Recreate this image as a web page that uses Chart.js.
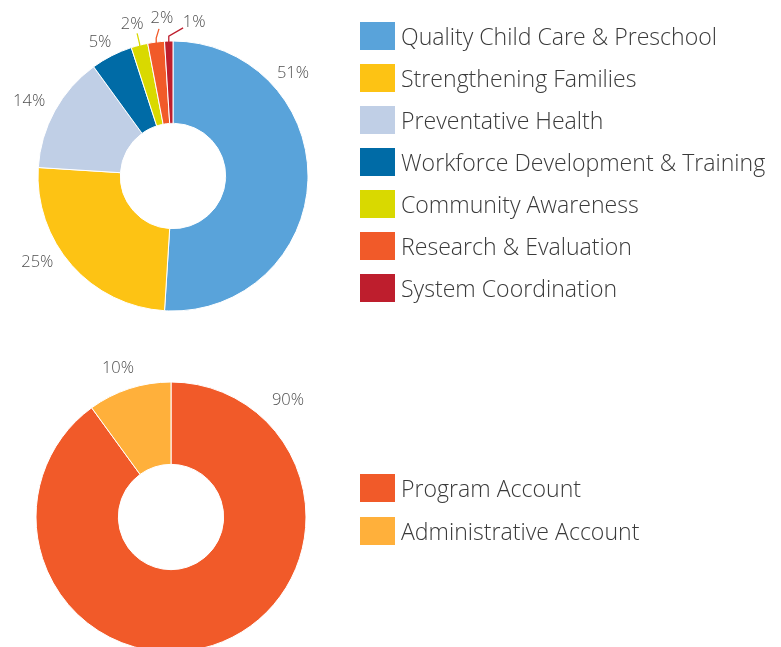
<!DOCTYPE html>
<html><head><meta charset="utf-8">
<script src="https://cdn.jsdelivr.net/npm/chart.js@4"></script>
<style>
html,body{margin:0;padding:0;background:#fff;overflow:hidden;width:781px;height:647px}
canvas{position:absolute;left:0}
#c1{top:0}#c2{top:330px}
</style></head><body>
<canvas id="c1" width="781" height="330"></canvas>
<canvas id="c2" width="781" height="330"></canvas>
<script>
// ---- data ----
const focusCategories = ['Quality Child Care & Preschool','Strengthening Families','Preventative Health','Workforce Development & Training','Community Awareness','Research & Evaluation','System Coordination'];
const focusValues = [51,25,14,5,2,2,1];
const focusColors = ['#59A3DA','#FDC314','#C0CFE6','#006BA6','#D9D900','#F15A29','#BE1E2D'];

const accountCategories = ['Program Account','Administrative Account'];
const accountValues = [90,10];
const accountColors = ['#F15A29','#FFB03B'];

const FONT = "'Open Sans', 'Noto Sans', sans-serif";

// percentage labels, placed around the ring
const pctLabels = {
  id:'pctLabels',
  afterDatasetsDraw(chart, args, opts){
    const ctx = chart.ctx, meta = chart.getDatasetMeta(0), ds = chart.data.datasets[0];
    ctx.save();
    ctx.font = opts.font; ctx.textAlign='center'; ctx.textBaseline='middle';
    meta.data.forEach((arc,i)=>{
      const p = arc.getProps(['x','y','startAngle','endAngle','outerRadius'], true);
      const mid = (p.startAngle+p.endAngle)/2;
      const pl = (opts.place||[])[i] || {};
      const ang = pl.angle!=null ? (pl.angle-90)*Math.PI/180 : mid;
      const dist = p.outerRadius + (pl.dist!=null ? pl.dist : 24);
      const lx = p.x + Math.cos(ang)*dist, ly = p.y + Math.sin(ang)*dist;
      if (pl.leader){
        const x0 = p.x + Math.cos(mid)*(p.outerRadius-1), y0 = p.y + Math.sin(mid)*(p.outerRadius-1);
        ctx.beginPath();
        ctx.strokeStyle = ds.backgroundColor[i]; ctx.lineWidth = 1.3;
        ctx.moveTo(x0,y0); ctx.lineTo(x0, y0-pl.leader[2]);
        ctx.lineTo(lx+pl.leader[0], ly+pl.leader[1]);
        ctx.stroke();
      }
      ctx.fillStyle = opts.color;
      ctx.fillText(ds.data[i]+'%', lx, ly);
    });
    ctx.restore();
  }
};

// legend at right
const sideLegend = {
  id:'sideLegend',
  afterDraw(chart, args, opts){
    const ctx = chart.ctx, ds = chart.data.datasets[0];
    ctx.save();
    ctx.font = opts.font; ctx.textAlign='left'; ctx.textBaseline='middle';
    chart.data.labels.forEach((lab,i)=>{
      const y = opts.top + i*opts.step;
      ctx.fillStyle = ds.backgroundColor[i];
      ctx.fillRect(opts.left, y, 35, 28);
      ctx.fillStyle = opts.color;
      ctx.fillText(lab, opts.left+41, y+16.5);
    });
    ctx.restore();
  }
};

function makeChart(id, labels, values, colors, padding, place, legendTop, legendStep){
  return new Chart(document.getElementById(id), {
    type:'doughnut',
    data:{labels, datasets:[{data:values, backgroundColor:colors, borderColor:'#fff', borderWidth:1, hoverOffset:0, radius:135}]},
    options:{
      responsive:false, animation:false, devicePixelRatio:1,
      cutout:'39%', rotation:0, circumference:360,
      layout:{padding},
      plugins:{
        legend:{display:false}, tooltip:{enabled:false},
        pctLabels:{font:'300 16.5px '+FONT, color:'#505050', place},
        sideLegend:{font:'300 23.1px '+FONT, color:'#3a3a3a', left:360, top:legendTop, step:legendStep}
      }
    },
    plugins:[pctLabels, sideLegend]
  });
}

makeChart('c1', focusCategories, focusValues, focusColors,
  {left:38, top:41, right:473, bottom:19},
  [{angle:49.4, dist:23},{angle:237.4, dist:26},{angle:297.4, dist:27},{angle:331.3, dist:17},
   {angle:344.9, dist:22, leader:[5,9,2]},{angle:356, dist:23, leader:[-3,10.5,5]},{angle:7.8, dist:20.5, leader:[-11,6,6]}],
  22, 42);

makeChart('c2', accountCategories, accountValues, accountColors,
  {left:36, top:52, right:475, bottom:8},
  [{angle:45, dist:30.5},{angle:340.4, dist:23}],
  144, 43);
</script>
</body></html>
